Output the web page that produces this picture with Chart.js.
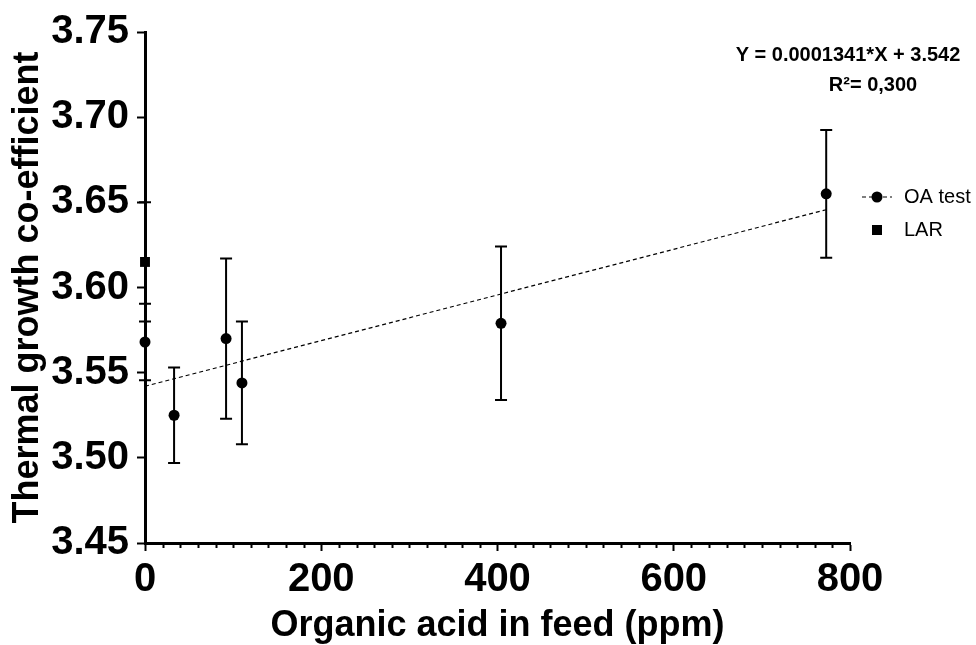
<!DOCTYPE html>
<html>
<head>
<meta charset="utf-8">
<script src="https://cdn.jsdelivr.net/npm/chart.js@4/dist/chart.umd.min.js"></script>
<style>
  html, body { margin: 0; padding: 0; background: #fff; }
  #wrap { width: 976px; height: 645px; }
</style>
</head>
<body>
<div id="wrap"><canvas id="c" width="976" height="645"></canvas></div>
<script>
// Organic acid dose (ppm), mean thermal growth coefficient and SD for the OA test groups
const oaDose = [0, 33, 92, 110, 404, 773];
const oaMean = [3.568, 3.525, 3.570, 3.544, 3.579, 3.655];
const oaErr  = [0.0225, 0.028, 0.047, 0.036, 0.045, 0.0375];

// LAR reference group
const larDose = [0];
const larMean = [3.615];
const larErr  = [0.035];

// Linear fit of the OA test series
const fitSlope = 0.0001341;
const fitIntercept = 3.542;
const fitEquation = 'Y = 0.0001341*X + 3.542';
const fitR2 = 'R\u00B2= 0,300';

// Axis ranges and ticks
const xTicks = [0, 200, 400, 600, 800];
const yTicks = [3.45, 3.50, 3.55, 3.60, 3.65, 3.70, 3.75];
const xMinorStep = 20;

const FONT = '"Liberation Sans", Arial, Helvetica, sans-serif';

const oaPoints = oaDose.map((x, i) => ({ x, y: oaMean[i] }));
const larPoints = larDose.map((x, i) => ({ x, y: larMean[i] }));
const fitEnd = Math.max(...oaDose);
const fitPoints = [0, fitEnd].map(x => ({ x, y: fitIntercept + fitSlope * x }));

// Vertical SD bars with end caps
const errorBars = {
  id: 'errorBars',
  beforeDatasetsDraw(chart) {
    const { ctx, scales: { x, y } } = chart;
    const groups = [
      { xs: oaDose, ms: oaMean, es: oaErr },
      { xs: larDose, ms: larMean, es: larErr }
    ];
    ctx.save();
    ctx.strokeStyle = '#000';
    ctx.lineWidth = 2;
    const cap = 6;
    groups.forEach(g => {
      g.xs.forEach((dv, i) => {
        const px = x.getPixelForValue(dv);
        const top = y.getPixelForValue(g.ms[i] + g.es[i]);
        const bot = y.getPixelForValue(g.ms[i] - g.es[i]);
        ctx.beginPath();
        ctx.moveTo(px, top); ctx.lineTo(px, bot);
        ctx.moveTo(px - cap, top); ctx.lineTo(px + cap, top);
        ctx.moveTo(px - cap, bot); ctx.lineTo(px + cap, bot);
        ctx.stroke();
      });
    });
    ctx.restore();
  }
};

// Short minor ticks on the x axis between the labelled ones
const minorTicks = {
  id: 'minorTicks',
  afterDraw(chart) {
    const { ctx, scales: { x }, chartArea } = chart;
    ctx.save();
    ctx.strokeStyle = '#000';
    ctx.lineWidth = 2;
    for (let v = x.min + xMinorStep; v < x.max; v += xMinorStep) {
      if (xTicks.includes(Math.round(v))) continue;
      const px = Math.round(x.getPixelForValue(v)) + 0.5;
      ctx.beginPath();
      ctx.moveTo(px, chartArea.bottom);
      ctx.lineTo(px, chartArea.bottom + 5);
      ctx.stroke();
    }
    ctx.restore();
  }
};

// Legend and fit equation at the right
const annotations = {
  id: 'annotations',
  afterDraw(chart) {
    const { ctx } = chart;
    ctx.save();
    ctx.fillStyle = '#000';
    ctx.strokeStyle = '#000';

    // fit equation
    ctx.font = 'bold 20px ' + FONT;
    ctx.textAlign = 'center';
    ctx.textBaseline = 'middle';
    ctx.fillText(fitEquation, 848, 55);
    ctx.fillText(fitR2, 873, 85);

    // legend: OA test
    const lx = 877;
    ctx.lineWidth = 1.2;
    ctx.setLineDash([4, 3]);
    ctx.beginPath();
    ctx.moveTo(862, 197); ctx.lineTo(892, 197);
    ctx.stroke();
    ctx.setLineDash([]);
    ctx.beginPath();
    ctx.arc(lx, 197, 5.5, 0, Math.PI * 2);
    ctx.fill();
    // legend: LAR
    ctx.fillRect(lx - 5, 225, 10, 10);

    ctx.font = '20px ' + FONT;
    ctx.textAlign = 'left';
    ctx.fillText('OA test', 904, 197);
    ctx.fillText('LAR', 904, 230);
    ctx.restore();
  }
};

new Chart(document.getElementById('c'), {
  type: 'scatter',
  data: {
    datasets: [
      {
        label: 'OA test',
        data: oaPoints,
        pointStyle: 'circle',
        pointRadius: 5.5,
        pointHoverRadius: 5.5,
        backgroundColor: '#000',
        borderColor: '#000',
        borderWidth: 0,
        clip: false
      },
      {
        label: 'LAR',
        data: larPoints,
        pointStyle: 'rect',
        pointRadius: 7,
        pointHoverRadius: 7,
        backgroundColor: '#000',
        borderColor: '#000',
        borderWidth: 0,
        clip: false
      },
      {
        label: 'Fit',
        data: fitPoints,
        showLine: true,
        borderColor: '#000',
        borderWidth: 1.2,
        borderDash: [4, 3],
        pointRadius: 0,
        pointHoverRadius: 0,
        fill: false
      }
    ]
  },
  options: {
    responsive: false,
    animation: false,
    devicePixelRatio: 1,
    layout: { padding: { left: 0, right: 126, top: 27, bottom: 0 } },
    plugins: {
      legend: { display: false },
      tooltip: { enabled: false }
    },
    scales: {
      x: {
        type: 'linear',
        min: 0,
        max: 800,
        afterFit(s) { s.height = 102; },
        afterBuildTicks(s) { s.ticks = xTicks.map(v => ({ value: v })); },
        border: { display: true, color: '#000', width: 3 },
        grid: { drawOnChartArea: false, drawTicks: true, tickLength: 8, tickWidth: 2, tickColor: '#000' },
        ticks: {
          color: '#000',
          padding: 5,
          maxRotation: 0,
          font: { family: FONT, size: 40, weight: 'bold' },
          callback: v => String(v)
        },
        title: {
          display: true,
          text: 'Organic acid in feed (ppm)',
          color: '#000',
          font: { family: FONT, size: 36, weight: 'bold', lineHeight: 1 },
          padding: { top: 0, bottom: 1 }
        }
      },
      y: {
        type: 'linear',
        min: 3.45,
        max: 3.75,
        afterFit(s) { s.width = 145; },
        afterBuildTicks(s) { s.ticks = yTicks.map(v => ({ value: v })); },
        border: { display: true, color: '#000', width: 3 },
        grid: { drawOnChartArea: false, drawTicks: true, tickLength: 8, tickWidth: 2, tickColor: '#000' },
        ticks: {
          color: '#000',
          padding: 8,
          font: { family: FONT, size: 40, weight: 'bold' },
          callback: v => Number(v).toFixed(2)
        },
        title: {
          display: true,
          text: 'Thermal growth co-efficient',
          color: '#000',
          font: { family: FONT, size: 36, weight: 'bold', lineHeight: 1 },
          padding: { top: 10, bottom: 0 }
        }
      }
    }
  },
  plugins: [errorBars, minorTicks, annotations]
});
</script>
</body>
</html>
